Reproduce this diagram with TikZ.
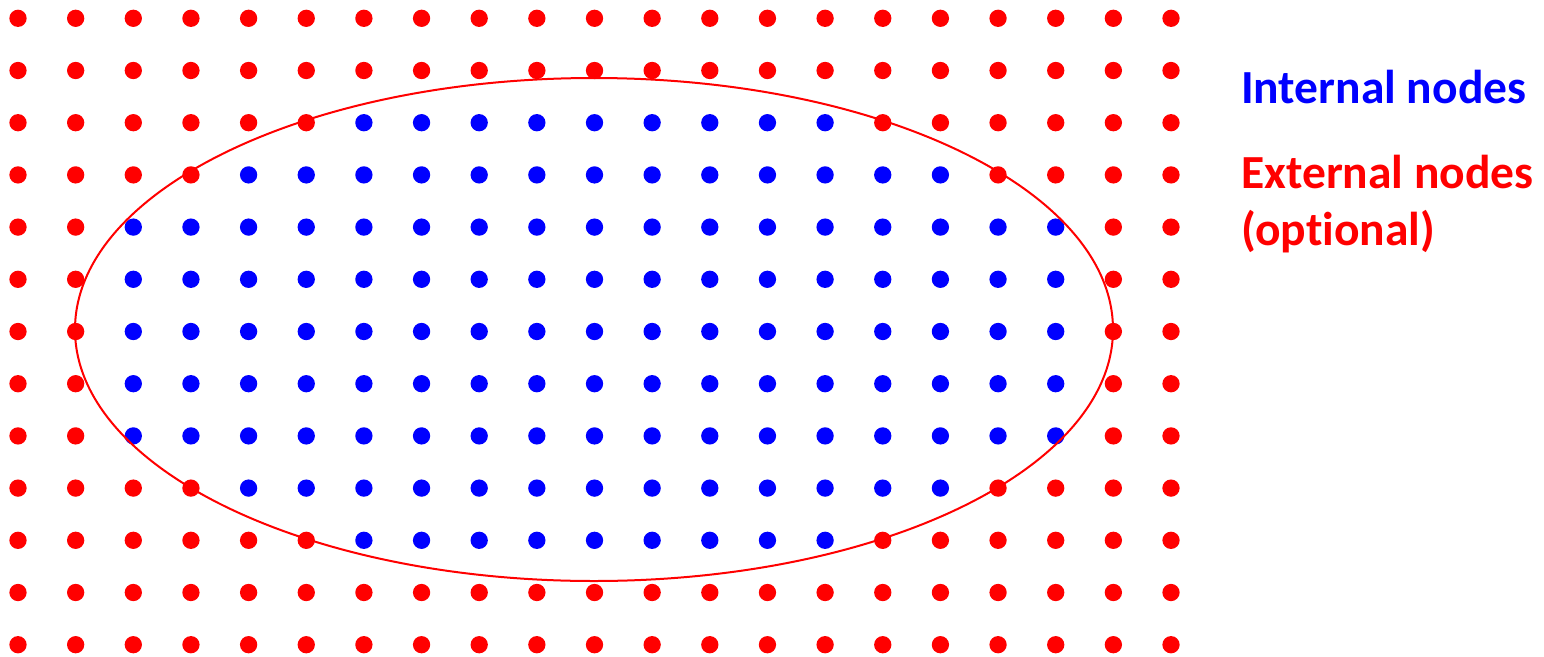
\documentclass[tikz,border=0pt]{standalone}
\usepackage{fontspec}
\newfontfamily\carlito[Ligatures={NoCommon}]{Carlito}
\definecolor{dotred}{RGB}{255,0,0}
\definecolor{dotblue}{RGB}{0,0,255}
\tikzset{
  dotnode/.style={circle, inner sep=0pt, minimum size=17.3pt, draw=none},
  label text/.style={anchor=base west, inner sep=0pt, font=\carlito\bfseries\fontsize{47.5}{57}\selectfont, align=left},
}
\begin{document}
\begin{tikzpicture}[x=1pt,y=-1pt]
\useasboundingbox (0,0) rectangle (1544,656);
\foreach \j/\lo/\hi in {0/99/-1,1/99/-1,2/6/14,3/4/16,4/2/18,5/2/18,6/2/18,7/2/18,8/2/18,9/4/16,10/6/14,11/99/-1,12/99/-1}{
  \foreach \i in {0,...,20}{
    \ifnum\i<\lo \def\dc{dotred}\else\ifnum\i>\hi \def\dc{dotred}\else\def\dc{dotblue}\fi\fi
    \node[dotnode, fill=\dc] (d-\i-\j) at ({18+\i*57.65},{18.3+\j*52.2}) {};
  }
}
\draw[dotred, line width=2pt] (594,329.5) ellipse [x radius=519, y radius=251.5];
\node[label text, text=dotblue] (internal) at (1241,103) {Internal nodes};
\node[label text, text=dotred] (external) at (1241,188) {External nodes};
\node[label text, text=dotred] (optional) at (1241,245) {(opt\kern0pt ional)};
\end{tikzpicture}
\end{document}
